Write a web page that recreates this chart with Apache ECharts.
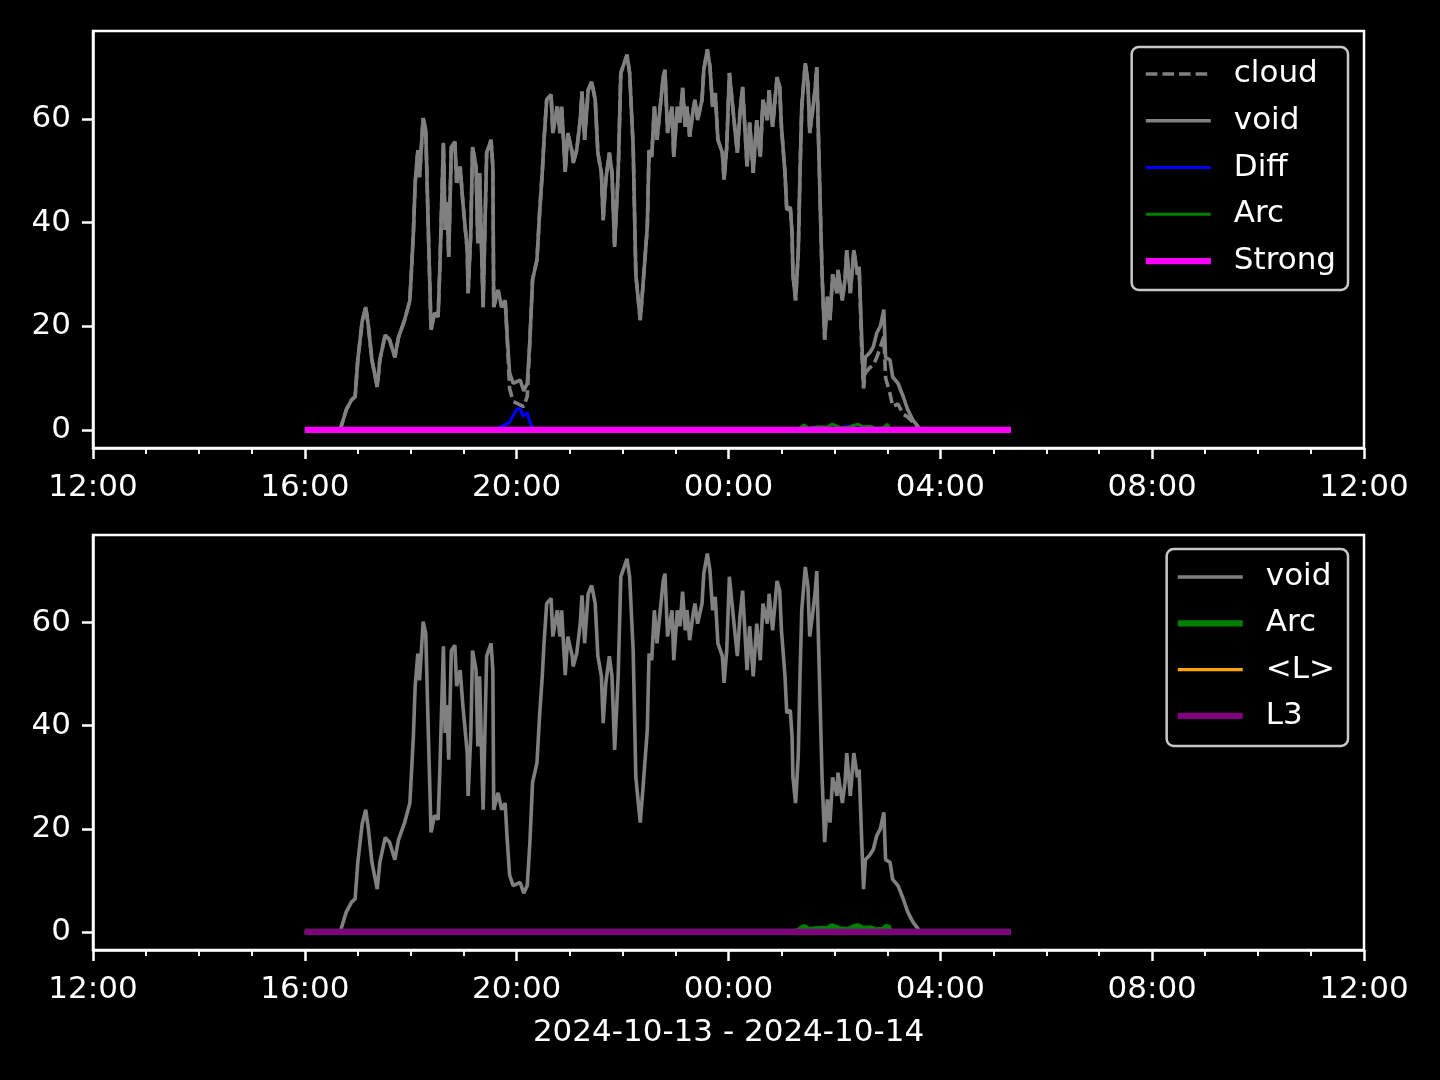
<!DOCTYPE html>
<html>
<head>
<meta charset="utf-8">
<script src="https://cdn.jsdelivr.net/npm/echarts@6/dist/echarts.min.js"></script>
<style>
html,body{margin:0;padding:0;background:#000;}
#chart{width:1440px;height:1080px;}
</style>
</head>
<body>
<div id="chart"></div>
<script>
// x values: minutes after 2024-10-13 12:00
const xTickLabels = ['12:00','16:00','20:00','00:00','04:00','08:00','12:00'];
const yTickValues = [0, 20, 40, 60];
const dateLabel = '2024-10-13 - 2024-10-14';

const voidPts = [
[240,0],[280,0],[287,3.9],[293,5.8],[297,6.4],[300,13.5],[305,21],[309,23.7],[312,20],[316,13.5],
[322,8.3],[325,13.5],[331,18.3],[336,17.4],[342,14],[346,17.8],[353,21.2],[359,25],[363,38],[365,47.7],
[368,54],[370,48.8],[374,60.2],[377,57.9],[380,38],[383,19.3],[387,22.6],[391,21.8],[393,31.5],[397,55.4],
[399,38.6],[401,44],[403,33.4],[406,54.6],[410,55.6],[412,47.7],[416,50.8],[419,44],[424,34.7],[425,26.4],
[428,38],[430,54.6],[434,50.8],[436,36],[438,49.6],[442,23.7],[446,53.5],[451,56],[453,50.8],[454,23.7],
[459,27],[463,23.7],[467,25],[469,18.7],[472,11],[476,9],[484,9.6],[488,7.5],[492,9],[495,17.4],
[498,29],[503,32.8],[506,42],[509,49.6],[511,56],[514,63.7],[519,64.7],[521,57.3],[526,62.4],[529,57.3],
[531,62.4],[535,49.8],[538,57.3],[543,53.5],[544,51.5],[548,54],[552,59.8],[554,65.3],[557,56],[561,65.6],
[565,67.2],[569,63.7],[572,53.5],[576,49.6],[578,40.5],[581,48.3],[585,53.5],[588,49.6],[591,35.3],[595,49.6],
[598,68.9],[603,71.4],[605,72.4],[608,68.9],[612,54.6],[615,30],[620,21.2],[623,27.6],[628,39.2],[630,54],
[633,52.7],[636,62.4],[639,56],[642,61.2],[646,68.1],[648,69.5],[651,57.3],[656,62.4],[658,52.7],[662,62.4],
[665,59.3],[668,66],[671,58.5],[673,62.4],[676,56.6],[680,61.8],[682,63.7],[685,59.8],[690,63.7],[692,69.5],
[696,73.4],[699,70.1],[702,62.4],[705,65],[708,56],[713,53.5],[715,48.3],[718,54.6],[721,68.9],[724,63.7],
[727,58.5],[730,53.5],[733,61.2],[736,66.2],[741,50.8],[744,59.3],[748,49.6],[752,59.8],[756,52.7],[759,63.7],
[764,59.8],[766,65.6],[770,58.5],[775,68.1],[778,66.2],[780,58.5],[784,49.6],[786,42.5],[790,43],[792,38],
[793,30],[796,25],[799,34],[801,49.6],[803,62.4],[807,70.8],[810,67],[812,57.3],[815,61.2],[818,65.6],
[820,70],[822,56],[826,30],[829,17.4],[832,25.7],[835,21.2],[838,30],[843,26.4],[844,30.9],[849,25],
[852,29],[854,34.7],[858,26.4],[862,34.7],[866,30],[868,31.5],[871,17.4],[873,8.3],[875,14],[880,14.9],
[884,16],[888,18.7],[892,20],[896,23.2],[898,14],[903,13.5],[906,10.2],[912,9],[918,6.4],[923,3.9],
[929,1.9],[934,0.8],[937,0],[1040,0]
];

const cloudPts = [
[240,0],[280,0],[287,3.9],[293,5.8],[297,6.4],[300,13.5],[305,21],[309,23.7],[312,20],[316,13.5],
[322,8.3],[325,13.5],[331,18.3],[336,17.4],[342,14],[346,17.8],[353,21.2],[359,25],[363,38],[365,47.7],
[368,54],[370,48.8],[374,60.2],[377,57.9],[380,38],[383,19.3],[387,22.6],[391,21.8],[393,31.5],[397,55.4],
[399,38.6],[401,44],[403,33.4],[406,54.6],[410,55.6],[412,47.7],[416,50.8],[419,44],[424,34.7],[425,26.4],
[428,38],[430,54.6],[434,50.8],[436,36],[438,49.6],[442,23.7],[446,53.5],[451,56],[453,50.8],[454,23.7],
[459,27],[463,23.7],[467,25],[469,18.7],[472,8],[476,5.5],[484,4.8],[488,4.5],[492,6.5],[495,17.4],
[498,29],[503,32.8],[506,42],[509,49.6],[511,56],[514,63.7],[519,64.7],[521,57.3],[526,62.4],[529,57.3],
[531,62.4],[535,49.8],[538,57.3],[543,53.5],[544,51.5],[548,54],[552,59.8],[554,65.3],[557,56],[561,65.6],
[565,67.2],[569,63.7],[572,53.5],[576,49.6],[578,40.5],[581,48.3],[585,53.5],[588,49.6],[591,35.3],[595,49.6],
[598,68.9],[603,71.4],[605,72.4],[608,68.9],[612,54.6],[615,30],[620,21.2],[623,27.6],[628,39.2],[630,54],
[633,52.7],[636,62.4],[639,56],[642,61.2],[646,68.1],[648,69.5],[651,57.3],[656,62.4],[658,52.7],[662,62.4],
[665,59.3],[668,66],[671,58.5],[673,62.4],[676,56.6],[680,61.8],[682,63.7],[685,59.8],[690,63.7],[692,69.5],
[696,73.4],[699,70.1],[702,62.4],[705,65],[708,56],[713,53.5],[715,48.3],[718,54.6],[721,68.9],[724,63.7],
[727,58.5],[730,53.5],[733,61.2],[736,66.2],[741,50.8],[744,59.3],[748,49.6],[752,59.8],[756,52.7],[759,63.7],
[764,59.8],[766,65.6],[770,58.5],[775,68.1],[778,66.2],[780,58.5],[784,49.6],[786,42.5],[790,43],[792,38],
[793,30],[796,25],[799,34],[801,49.6],[803,62.4],[807,70.8],[810,67],[812,57.3],[815,61.2],[818,65.6],
[820,70],[822,56],[826,30],[829,17.4],[832,25.7],[835,21.2],[838,30],[843,26.4],[844,30.9],[849,25],
[852,29],[854,34.7],[858,26.4],[862,34.7],[866,30],[868,31.5],[871,15],[873,8],[875,11],[880,12],
[884,12.5],[888,14],[892,16],[896,18],[898,10],[903,7],[906,4.5],[912,5],[918,3],[923,2.5],
[929,1.5],[934,0.3],[937,0],[1040,0]
];

const diffPts = [
[240,0],[455,0],[461,0.5],[467,1],[472,1.5],[477,3],[480,3.9],[484,4.2],[487,2.6],[492,3.3],
[495,1.5],[498,0.3],[503,0],[800,0],[804,0.6],[808,0.2],[816,0.5],[820,0.3],[830,0.3],[843,0.2],
[855,0.7],[860,0.6],[866,0.3],[875,0.2],[880,0],[1040,0]
];

const arcPts = [
[240,0],[795,0],[800,0.3],[806,1.0],[810,0.3],[817,0.5],[825,0.6],[832,0.5],[837,1.1],[842,0.8],
[846,0.5],[855,0.4],[862,0.9],[867,1.1],[872,0.6],[880,0.7],[888,0.3],[895,0.4],[900,1.1],[903,0.2],
[906,0],[1040,0]
];

const lMeanPts = [[240,0],[1040,0]];
const strongPts = [[240,0],[1040,0]];
const l3Pts = [[240,0],[1040,0]];

const FONT = 'DejaVu Sans';
const FS = 31;
const chart = echarts.init(document.getElementById('chart'), null, {renderer:'canvas'});

function fmtX(v){
  const idx = Math.round(v/240);
  return xTickLabels[idx] !== undefined ? xTickLabels[idx] : '';
}

function xAxisCfg(gi, withName){
  const a = {
    type:'value', gridIndex:gi, min:0, max:1440, interval:240,
    axisLine:{show:true, onZero:false, lineStyle:{color:'#fff', width:2.5}},
    axisTick:{show:true, length:11, lineStyle:{color:'#fff', width:2.5}},
    minorTick:{show:true, splitNumber:4, length:6, lineStyle:{color:'#fff', width:1.9}},
    axisLabel:{color:'#fff', fontSize:FS, fontFamily:FONT, margin:24, formatter:fmtX},
    splitLine:{show:false}
  };
  if(withName){
    a.name = dateLabel;
    a.nameLocation = 'middle';
    a.nameGap = 67;
    a.nameTextStyle = {color:'#fff', fontSize:FS, fontFamily:FONT};
  }
  return a;
}
function yAxisCfg(gi){
  return {
    type:'value', gridIndex:gi, min:-3.5, max:77,
    axisLine:{show:true, lineStyle:{color:'#fff', width:2.5}},
    axisTick:{show:true, length:11, customValues:yTickValues, lineStyle:{color:'#fff', width:2.5}},
    axisLabel:{color:'#fff', fontSize:FS, fontFamily:FONT, margin:22, customValues:yTickValues, padding:[12,0,0,0]},
    splitLine:{show:false}
  };
}

function line(name, pts, gi, color, width, dash, z){
  return {
    name:name, type:'line', xAxisIndex:gi, yAxisIndex:gi, data:pts,
    symbol:'none', showSymbol:false, z:z,
    lineStyle:{color:color, width:width, type:dash||'solid'},
    itemStyle:{color:color},
    emphasis:{disabled:true}
  };
}

const legendText = {color:'#fff', fontSize:FS, fontFamily:FONT, lineHeight:32, padding:[0,0,0,18]};

const option = {
  backgroundColor:'#000',
  animation:false,
  grid:[
    {left:93, right:76, top:31, height:417, show:true, borderColor:'#fff', borderWidth:2.5, backgroundColor:'#000'},
    {left:93, right:76, top:535, height:415, show:true, borderColor:'#fff', borderWidth:2.5, backgroundColor:'#000'}
  ],
  xAxis:[xAxisCfg(0,false), xAxisCfg(1,true)],
  yAxis:[yAxisCfg(0), yAxisCfg(1)],
  legend:[
    {
      data:['cloud','void','Diff','Arc','Strong'],
      orient:'vertical', right:92, top:47,
      itemWidth:65, itemHeight:14, itemGap:14.75,
      padding:[11,12,13,11],
      borderColor:'#c8c8c8', borderWidth:2.5, borderRadius:7, backgroundColor:'#000',
      itemStyle:{opacity:0},
      lineStyle:{width:'inherit'},
      textStyle:legendText, formatter:n=>n.trim(), selectedMode:false
    },
    {
      data:['void ','Arc ','<L>','L3'],
      orient:'vertical', right:92, top:549,
      itemWidth:65, itemHeight:14, itemGap:14.3,
      padding:[12,13,14,8],
      borderColor:'#c8c8c8', borderWidth:2.5, borderRadius:7, backgroundColor:'#000',
      itemStyle:{opacity:0},
      lineStyle:{width:'inherit'},
      textStyle:legendText, formatter:n=>n.trim(), selectedMode:false
    }
  ],
  series:[
    line('cloud', cloudPts, 0, '#808080', 3.6, [11.6,5], 2),
    line('void', voidPts, 0, '#808080', 3.6, null, 3),
    line('Diff', diffPts, 0, '#0000ff', 3, null, 4),
    line('Arc', arcPts, 0, '#008000', 3, null, 5),
    line('Strong', strongPts, 0, '#ff00ff', 6.25, null, 6),
    line('void ', voidPts, 1, '#808080', 3.6, null, 2),
    line('Arc ', arcPts, 1, '#008000', 6.25, null, 3),
    line('<L>', lMeanPts, 1, '#ffa500', 3.1, null, 4),
    line('L3', l3Pts, 1, '#800080', 6.25, null, 5)
  ]
};
chart.setOption(option);
</script>
</body>
</html>
